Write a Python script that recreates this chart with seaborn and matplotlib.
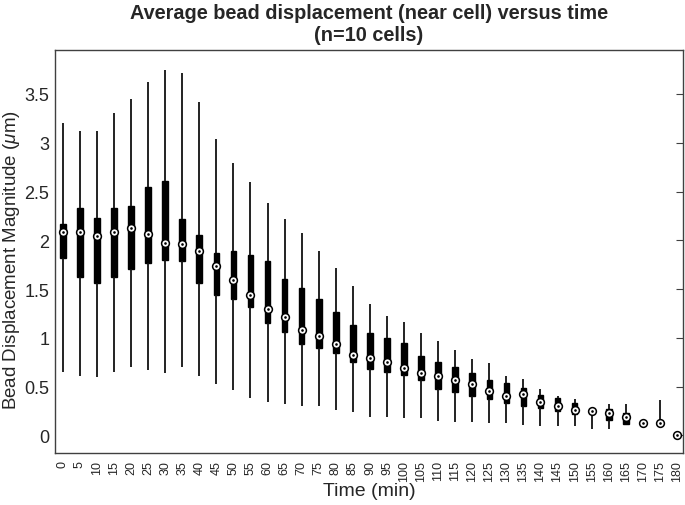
import matplotlib
matplotlib.use("Agg")
import matplotlib.pyplot as plt
import seaborn as sns
import numpy as np
import pandas as pd

# time points (min)
times = list(range(0, 185, 5))

# five-number summaries (um)
whisker_low = [0.65, 0.61, 0.60, 0.65, 0.70, 0.67, 0.64, 0.70, 0.61, 0.53,
               0.46, 0.38, 0.34, 0.32, 0.30, 0.30, 0.26, 0.24, 0.19, 0.19,
               0.18, 0.18, 0.15, 0.14, 0.14, 0.13, 0.13, 0.11, 0.10, 0.10,
               0.10, 0.07, 0.06, 0.12, 0.10, 0.09, 0.0]
q1 = [1.82, 1.62, 1.56, 1.62, 1.71, 1.77, 1.80, 1.79, 1.56, 1.44,
      1.40, 1.32, 1.15, 1.06, 0.94, 0.90, 0.84, 0.75, 0.68, 0.65,
      0.62, 0.57, 0.48, 0.44, 0.40, 0.37, 0.33, 0.30, 0.28, 0.25,
      0.22, 0.24, 0.16, 0.12, 0.12, 0.11, 0.0]
medians = [2.08, 2.09, 2.04, 2.08, 2.13, 2.06, 1.97, 1.96, 1.885, 1.74,
           1.595, 1.44, 1.295, 1.21, 1.084, 1.016, 0.937, 0.828, 0.794, 0.75,
           0.695, 0.64, 0.613, 0.572, 0.522, 0.457, 0.403, 0.42, 0.341, 0.30,
           0.256, 0.249, 0.225, 0.188, 0.13, 0.123, 0.0]
q3 = [2.17, 2.33, 2.23, 2.33, 2.35, 2.55, 2.61, 2.22, 2.05, 1.87,
      1.89, 1.85, 1.786, 1.60, 1.51, 1.397, 1.26, 1.13, 1.046, 1.00,
      0.944, 0.815, 0.75, 0.70, 0.642, 0.563, 0.539, 0.485, 0.416, 0.386,
      0.328, 0.25, 0.266, 0.232, 0.14, 0.14, 0.0]
whisker_high = [3.20, 3.125, 3.12, 3.31, 3.45, 3.62, 3.75, 3.715, 3.42, 3.04,
                2.795, 2.60, 2.386, 2.215, 2.07, 1.885, 1.72, 1.534, 1.346, 1.227,
                1.159, 1.053, 0.965, 0.877, 0.778, 0.737, 0.607, 0.573, 0.478, 0.403,
                0.375, 0.25, 0.324, 0.317, 0.15, 0.358, 0.0]

labels = [str(t) for t in times]

rows = []
for i, lab in enumerate(labels):
    for v in (whisker_low[i], q1[i], medians[i], q3[i], whisker_high[i]):
        rows.append({"time": lab, "disp": v})
df = pd.DataFrame(rows)

sns.set_style("white")
plt.rcParams["font.family"] = ["Liberation Sans", "DejaVu Sans"]
plt.rcParams["mathtext.fontset"] = "custom"
plt.rcParams["mathtext.it"] = "Liberation Sans:italic"
plt.rcParams["mathtext.rm"] = "Liberation Sans"

fig = plt.figure(figsize=(6.85, 5.06), dpi=100)
ax = fig.add_axes([0.080, 0.103, 0.917, 0.796])

sns.boxplot(data=df, x="time", y="disp", order=labels, whis=(0, 100),
            width=0.33, color="black", linecolor="black", linewidth=1.0,
            showcaps=False, showfliers=False, ax=ax,
            boxprops=dict(facecolor="black", edgecolor="black"),
            whiskerprops=dict(color="#111111", linewidth=1.3),
            medianprops=dict(visible=False))

sns.stripplot(x=labels, y=medians, order=labels, jitter=False, marker="o",
              size=5.6, color="white", edgecolor="black", linewidth=1.1,
              zorder=5, ax=ax)
sns.stripplot(x=labels, y=medians, order=labels, jitter=False, marker="o",
              size=1.9, color="black", linewidth=0, zorder=6, ax=ax)

ax.set_xlim(-0.47, 36.35)
ax.set_ylim(-0.18, 3.95)
ax.set_yticks(np.arange(0, 3.6, 0.5))
ax.set_yticklabels(["0", "0.5", "1", "1.5", "2", "2.5", "3", "3.5"], fontsize=13)
ax.set_xticks(range(len(labels)))
ax.set_xticklabels(labels, rotation=90, fontsize=9)
ax.tick_params(axis="y", direction="in", length=5, right=True, width=0.8,
               color="#404040", pad=4)
ax.tick_params(axis="x", length=0, pad=5)

for sp in ax.spines.values():
    sp.set_visible(True)
    sp.set_color("#404040")
    sp.set_linewidth(1.0)

ax.set_xlabel("Time (min)", fontsize=14, labelpad=1)
ax.set_ylabel(r"Bead Displacement Magnitude ($\mu$m)", fontsize=13.5)
ax.yaxis.set_label_coords(-0.052, 0.48)
ax.set_title("Average bead displacement (near cell) versus time\n(n=10 cells)",
             fontsize=14.3, fontweight="bold", pad=7, linespacing=1.25)

fig.savefig("out.png", dpi=100)
